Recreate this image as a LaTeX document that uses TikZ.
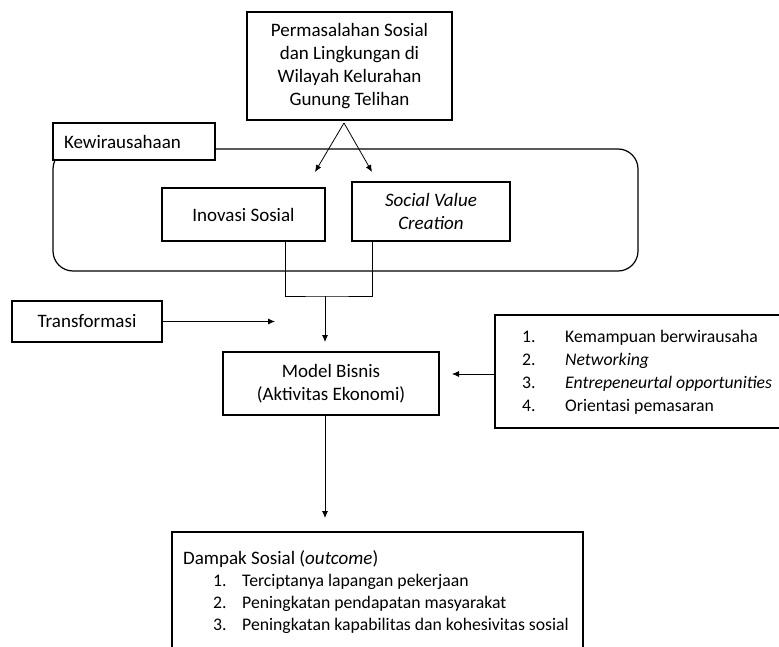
\documentclass[tikz,border=0pt]{standalone}
\usepackage{fontspec}
\setmainfont{Carlito}
\usetikzlibrary{arrows.meta}

\begin{document}
\begin{tikzpicture}[
  x=1pt, y=-1pt,
  every node/.style={font=\fontsize{19}{23}\selectfont},
  box/.style={rectangle, draw, line width=1.2pt, inner sep=0pt, align=center},
  plain/.style={inner sep=0pt, align=left},
  conn/.style={line width=0.8pt},
  arr/.style={conn, -{Latex[length=7pt,width=6pt]}}
]
\useasboundingbox (0,0) rectangle (779,647);
\clip (0,0) rectangle (779,647);

% Kewirausahaan frame
\node[box, rounded corners=20pt, minimum width=585, minimum height=122] (kew) at (345.5,210) {};
\node[box, fill=white, minimum width=162, minimum height=37, text width=140, align=left] (kewtab) at (134,141.5) {Kewirausahaan};

% Problem and the two boxes inside the frame
\node[box, minimum width=205, minimum height=108] (masalah) at (349.5,66) {Permasalahan Sosial\\dan Lingkungan di\\Wilayah Kelurahan\\Gunung Telihan};
\node[box, minimum width=163, minimum height=53] (inovasi) at (243.5,214.5) {Inovasi Sosial};
\node[box, minimum width=158, minimum height=59, font=\fontsize{19}{23}\selectfont\itshape] (svc) at (431,211.5) {Social Value\\Creation};

\coordinate (split) at (344,123);
\coordinate (toino) at (315,172);
\coordinate (tosvc) at (372,172);
\draw[arr] (split) -- (toino);
\draw[arr] (split) -- (tosvc);

% Join below the two boxes
\coordinate (join) at (325,296);
\coordinate (modelin) at (325,342);
\draw[conn] ([xshift=41.5]inovasi.south) |- (join) -| ([xshift=-59]svc.south);
\draw[arr] (join) -- (modelin);

% Model Bisnis
\node[box, minimum width=216, minimum height=63] (model) at (331,383.5) {Model Bisnis\\(Aktivitas Ekonomi)};

\node[box, minimum width=150, minimum height=41] (trans) at (87,321.5) {Transformasi};
\coordinate (transin) at (275,321.5);
\draw[arr] (trans) -- (transin);

% Factor list
\node[box, minimum width=295, minimum height=113] (faktor) at (642.5,371.5) {};
\node[plain, anchor=west, font=\fontsize{17.7}{23}\selectfont] (faktortxt) at (522,372.5) {%
  \makebox[43pt][l]{1.}Kemampuan berwirausaha\\
  \makebox[43pt][l]{2.}\textit{Networking}\\
  \makebox[43pt][l]{3.}\textit{Entrepeneurtal opportunities}\\
  \makebox[43pt][l]{4.}Orientasi pemasaran};
\coordinate (tomodel) at (452,374);
\draw[arr] (faktor.west |- tomodel) -- (tomodel);

% Outcome
\coordinate (todampak) at (325,518);
\draw[arr] (model.south -| join) -- (todampak);
\node[box, minimum width=411, minimum height=140] (dampak) at (377.5,602) {};
\node[plain, anchor=north west, font=\fontsize{17.7}{22}\selectfont] (dampaktxt) at (183,550) {%
  {\fontsize{19}{22}\selectfont Dampak Sosial (\textit{outcome})}\\
  \hspace*{30pt}\makebox[29pt][l]{1.}Terciptanya lapangan pekerjaan\\
  \hspace*{30pt}\makebox[29pt][l]{2.}Peningkatan pendapatan masyarakat\\
  \hspace*{30pt}\makebox[29pt][l]{3.}Peningkatan kapabilitas dan kohesivitas sosial};

\end{tikzpicture}
\end{document}
